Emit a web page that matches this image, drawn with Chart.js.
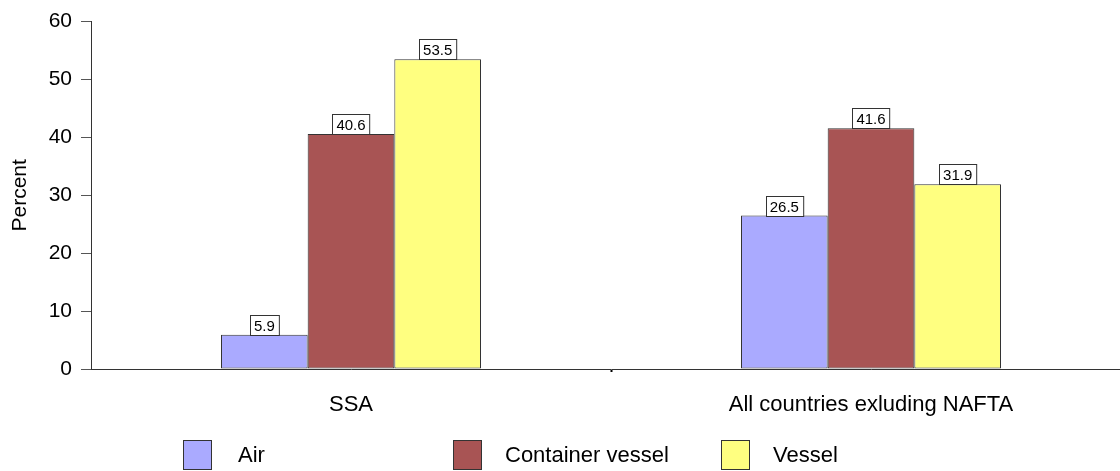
<!DOCTYPE html>
<html>
<head>
<meta charset="utf-8">
<script src="https://cdn.jsdelivr.net/npm/chart.js@4/dist/chart.umd.min.js"></script>
<style>
  html, body { margin: 0; padding: 0; background: #fff; overflow: hidden; }
  #wrap { width: 1131px; height: 471px; position: relative; }
</style>
</head>
<body>
<div id="wrap"><canvas id="c"></canvas></div>
<script>
// Share of imports by transport mode
const categories = ['SSA', 'All countries exluding NAFTA'];
const seriesNames = ['Air', 'Container vessel', 'Vessel'];
const airValues = [5.9, 26.5];
const containerValues = [40.6, 41.6];
const vesselValues = [53.5, 31.9];
const yTicks = [0, 10, 20, 30, 40, 50, 60];

const colors = ['#AAAAFF', '#A85454', '#FFFF80'];
const FONT = 'Liberation Sans, Arial, Helvetica, sans-serif';

// Boxed value labels sitting on top of each bar
const valueLabels = {
  id: 'valueLabels',
  afterDatasetsDraw(chart) {
    const ctx = chart.ctx;
    ctx.save();
    ctx.font = '15px ' + FONT;
    ctx.textAlign = 'center';
    ctx.textBaseline = 'middle';
    chart.data.datasets.forEach((ds, di) => {
      chart.getDatasetMeta(di).data.forEach((bar, i) => {
        const txt = ds.data[i].toFixed(1);
        const w = ctx.measureText(txt).width + 8;
        const h = 20;
        const x = Math.round(bar.x - w / 2) + 0.5;
        const y = Math.round(bar.y - h) + 0.5;
        ctx.fillStyle = '#fff';
        ctx.fillRect(x, y, w, h);
        ctx.strokeStyle = '#333';
        ctx.lineWidth = 1;
        ctx.strokeRect(x, y, w, h);
        ctx.fillStyle = '#000';
        ctx.fillText(txt, bar.x, y + h / 2 + 1);
      });
    });
    ctx.restore();
  }
};

// Legend row along the bottom
const bottomLegend = {
  id: 'bottomLegend',
  afterDraw(chart) {
    const ctx = chart.ctx;
    const boxX = [183, 453, 721];
    const textX = [238, 505, 773];
    ctx.save();
    ctx.font = '22px ' + FONT;
    ctx.textBaseline = 'middle';
    ctx.textAlign = 'left';
    chart.data.datasets.forEach((ds, i) => {
      ctx.fillStyle = ds.backgroundColor;
      ctx.fillRect(boxX[i] + 0.5, 440.5, 28, 29);
      ctx.strokeStyle = '#333';
      ctx.lineWidth = 1;
      ctx.strokeRect(boxX[i] + 0.5, 440.5, 28, 29);
      ctx.fillStyle = '#000';
      ctx.fillText(ds.label, textX[i], 456);
    });
    ctx.restore();
  }
};

new Chart(document.getElementById('c'), {
  type: 'bar',
  data: {
    labels: categories,
    datasets: [
      { label: seriesNames[0], data: airValues, backgroundColor: colors[0] },
      { label: seriesNames[1], data: containerValues, backgroundColor: colors[1] },
      { label: seriesNames[2], data: vesselValues, backgroundColor: colors[2] }
    ].map(d => Object.assign(d, {
      borderColor: '#333',
      borderWidth: 1,
      borderSkipped: false,
      barPercentage: 1.0,
      categoryPercentage: 0.5
    }))
  },
  options: {
    responsive: true,
    maintainAspectRatio: false,
    animation: false,
    layout: { padding: { top: 19, right: 0, bottom: 52, left: 0 } },
    plugins: {
      legend: { display: false },
      tooltip: { enabled: false }
    },
    scales: {
      x: {
        grid: {
          display: true,
          drawOnChartArea: false,
          drawTicks: true,
          tickLength: 3,
          tickWidth: 2,
          tickColor: (c) => (c.index === 1 ? '#000' : 'rgba(0,0,0,0)'),
          offset: true
        },
        border: { display: true, color: '#333', width: 1 },
        ticks: {
          color: '#000',
          font: { family: FONT, size: 22 },
          padding: 20,
          maxRotation: 0
        },
        afterFit(scale) { scale.height = 50; }
      },
      y: {
        min: 0,
        max: 60,
        afterBuildTicks(scale) { scale.ticks = yTicks.map(v => ({ value: v })); },
        grid: {
          display: true,
          drawOnChartArea: false,
          drawTicks: true,
          tickLength: 10,
          tickColor: '#555',
          tickWidth: 1
        },
        border: { display: true, color: '#333', width: 1 },
        ticks: {
          color: '#000',
          font: { family: FONT, size: 21 },
          padding: 9
        },
        title: {
          display: true,
          text: 'Percent',
          color: '#000',
          font: { family: FONT, size: 21 },
          padding: { top: 8, bottom: 0 }
        },
        afterFit(scale) { scale.width = 91; }
      }
    }
  },
  plugins: [valueLabels, bottomLegend]
});
</script>
</body>
</html>
